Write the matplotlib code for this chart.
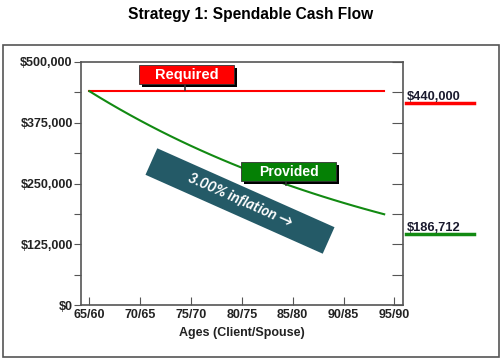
import matplotlib
matplotlib.use("Agg")
import matplotlib.pyplot as plt
from matplotlib.patches import Rectangle, Polygon
import numpy as np

# data
ages = list(range(65, 95))
required = [440000] * 30
provided = [440000, 427184, 414742, 402662, 390934, 379548, 368493, 357760,
            347340, 337223, 327401, 317865, 308607, 299618, 290891, 282419,
            274193, 266207, 258453, 250925, 243617, 236521, 229631, 222943,
            216449, 210146, 204026, 198084, 192314, 186712]
xtick_ages = [65, 70, 75, 80, 85, 90, 95]
xtick_labels = ["65/60", "70/65", "75/70", "80/75", "85/80", "90/85", "95/90"]
ytick_labels = ["$0", "$125,000", "$250,000", "$375,000", "$500,000"]

W, H = 502, 361
plt.rcParams['font.family'] = ['Liberation Sans', 'DejaVu Sans']
fig = plt.figure(figsize=(W / 100, H / 100), dpi=100)


def px(x, y):
    # pixel from top-left -> figure fraction
    return x / W, 1 - y / H


# outer frame
fig.patches.append(Rectangle(px(3, 357), 496 / W, 312 / H, transform=fig.transFigure,
                             fill=False, edgecolor="#555555", linewidth=1.2))

fig.text(0.5, 1 - 15 / H, "Strategy 1: Spendable Cash Flow", ha="center", va="center",
         fontsize=11.2, fontweight="bold", color="black")

ax = fig.add_axes([81 / W, 56 / H, 322 / W, 243 / H])
ax.plot(ages, required, color="#ff0000", linewidth=1.5, zorder=3)
ax.plot(ages, provided, color="#128a12", linewidth=1.5, zorder=3)

ax.set_xlim(64.18, 95.85)
ax.set_ylim(0, 500000)
ax.set_xticks(xtick_ages)
ax.set_xticklabels(xtick_labels, fontsize=9, fontweight="bold", color="#222222")
ax.set_yticks(np.arange(0, 500001, 62500))
ylabels = []
for i in range(9):
    ylabels.append(ytick_labels[i // 2] if i % 2 == 0 else "")
ax.set_yticklabels(ylabels, fontsize=9, fontweight="bold", color="#222222")
ax.tick_params(axis="x", direction="in", length=6, color="#555555", pad=3)
ax.tick_params(axis="y", direction="out", length=5, color="#555555", pad=1,
               right=True)
for t in ax.yaxis.get_major_ticks():
    t.tick2line.set_marker(matplotlib.lines.TICKLEFT)
    t.tick2line.set_markersize(8)
for s in ax.spines.values():
    s.set_color("#555555")
    s.set_linewidth(1.2)
ax.set_xlabel("Ages (Client/Spouse)", fontsize=9, fontweight="bold", color="#222222",
              labelpad=4)


def callout(x0, y0, w, h, color, label, tip_x, tip_y, size):
    fig.patches.append(Rectangle(px(x0 + 3, y0 + h + 3), w / W, h / H,
                                 transform=fig.transFigure, facecolor="black",
                                 edgecolor="none", zorder=5))
    fig.patches.append(Rectangle(px(x0, y0 + h), w / W, h / H,
                                 transform=fig.transFigure, facecolor=color,
                                 edgecolor="#333333", linewidth=0.6, zorder=6))
    fig.lines.append(plt.Line2D([tip_x / W, tip_x / W], [1 - (y0 + h) / H, 1 - tip_y / H],
                                transform=fig.transFigure, color="#333333",
                                linewidth=1.2, zorder=6))
    fig.text((x0 + w / 2) / W, 1 - (y0 + h / 2) / H, label, ha="center", va="center",
             fontsize=size, fontweight="bold", color="white", zorder=7)


callout(139, 65, 95, 19, "#ff0000", "Required", 185, 90, 10.5)
callout(241, 162, 95, 19, "#058005", "Provided", 286, 185, 10)

# inflation banner
ang = np.deg2rad(24)
cx, cy = 240, 201
bw, bh = 194, 29
ux, uy = np.cos(ang), np.sin(ang)
vx, vy = -np.sin(ang), np.cos(ang)
corners = []
for a, b in [(-1, -1), (1, -1), (1, 1), (-1, 1)]:
    x = cx + a * bw / 2 * ux + b * bh / 2 * vx
    y = cy + a * bw / 2 * uy + b * bh / 2 * vy
    corners.append(px(x, y))
fig.patches.append(Polygon(corners, closed=True, transform=fig.transFigure,
                           facecolor="#245a67", edgecolor="none", zorder=8))
fig.text(240 / W, 1 - 201 / H, "3.00% inflation \u2192", ha="center", va="center",
         rotation=-24, rotation_mode="anchor", fontsize=10.5, fontweight="bold",
         style="italic", family=["Lato", "DejaVu Sans"], color="white", zorder=9)

# right side value labels
for val, col, ytxt in [("$440,000", "#ff0000", 97), ("$186,712", "#128a12", 228)]:
    fig.text(407 / W, 1 - ytxt / H, val, ha="left", va="center", fontsize=9.3,
             fontweight="bold", color="#1a1a2e")
    fig.lines.append(plt.Line2D([406 / W, 474 / W], [1 - (ytxt + 6) / H, 1 - (ytxt + 6) / H],
                                transform=fig.transFigure, color=col, linewidth=2.5))

fig.savefig("out.png", dpi=100)
